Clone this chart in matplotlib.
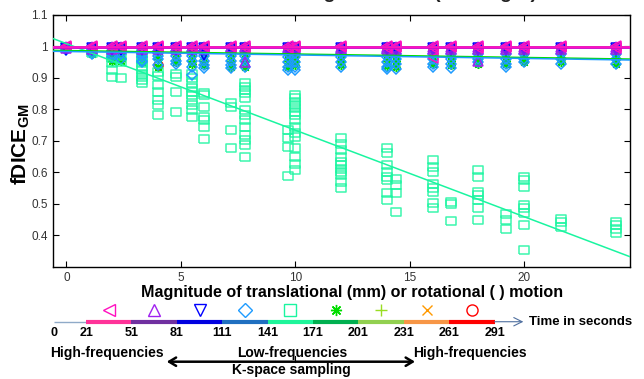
import numpy as np
import matplotlib.pyplot as plt

plt.rcParams['font.family'] = ['Liberation Sans', 'DejaVu Sans']
plt.rcParams['mathtext.fontset'] = 'custom'
plt.rcParams['mathtext.bf'] = 'Liberation Sans:bold'
plt.rcParams['mathtext.rm'] = 'Liberation Sans'

# motion magnitude of each group of subjects
motion = [0, 1.1, 2, 2.4, 3.3, 4, 4.8, 5.5, 6, 7.2, 7.8, 9.7, 10, 12, 14, 14.4, 16, 16.8, 18, 19.2, 20, 21.6, 24]

# fDICE values per motion group, one list per time window
left_vals = [[1.0, 0.997], [1.0, 0.997], [1.0, 0.996], [1.0, 0.997], [1.0, 0.996], [1.0, 0.997],
             [1.0, 0.996], [1.0, 0.996], [1.0, 0.997], [1.0, 0.997], [1.0, 0.996], [1.0, 0.996],
             [1.0, 0.997], [1.0, 0.997], [1.0, 0.996], [1.0, 0.997], [1.0, 0.996, 0.962], [1.0, 0.997],
             [1.0, 0.996], [1.0, 0.997], [1.0, 0.996], [1.0, 0.997], [1.0, 0.996]]
up_vals = [[0.998, 0.994], [0.998, 0.993], [0.997, 0.993], [0.998, 0.994], [0.997, 0.992], [0.998, 0.993],
           [0.997, 0.993], [0.998, 0.992], [0.997, 0.993], [0.998, 0.994], [0.997, 0.992, 0.951], [0.998, 0.993],
           [0.997, 0.992], [0.998, 0.993], [0.997, 0.992], [0.998, 0.993], [0.997, 0.993], [0.998, 0.992],
           [0.997, 0.993, 0.955], [0.998, 0.992], [0.997, 0.993], [0.998, 0.992], [0.997, 0.993]]
down_vals = [[0.996, 0.99], [0.995, 0.989], [0.996, 0.988], [0.995, 0.989], [0.996, 0.988], [0.995, 0.988],
             [0.996, 0.989], [0.995, 0.988], [0.996, 0.988, 0.972], [0.995, 0.989], [0.996, 0.988], [0.995, 0.988],
             [0.996, 0.989], [0.995, 0.988], [0.996, 0.989], [0.995, 0.988], [0.996, 0.988], [0.995, 0.989],
             [0.996, 0.988], [0.995, 0.989], [0.996, 0.988], [0.995, 0.989], [0.996, 0.988]]
diamond_vals = [[0.995, 0.99], [0.99, 0.985, 0.975], [0.985, 0.975, 0.965], [0.985, 0.975, 0.96],
                [0.985, 0.975, 0.965, 0.955, 0.95], [0.985, 0.97, 0.96, 0.94], [0.985, 0.97, 0.955, 0.945],
                [0.985, 0.97, 0.955, 0.935, 0.91], [0.985, 0.97, 0.955, 0.94, 0.93], [0.985, 0.97, 0.955, 0.94, 0.93],
                [0.985, 0.97, 0.955, 0.935], [0.98, 0.965, 0.95, 0.935, 0.925], [0.98, 0.965, 0.95, 0.935, 0.925],
                [0.98, 0.965, 0.95, 0.935], [0.98, 0.965, 0.95, 0.935, 0.928], [0.975, 0.96, 0.945, 0.928],
                [0.975, 0.96, 0.945, 0.935], [0.975, 0.96, 0.945, 0.93], [0.975, 0.96, 0.95],
                [0.975, 0.96, 0.945, 0.935], [0.975, 0.96, 0.95], [0.975, 0.96, 0.945], [0.975, 0.96, 0.945]]
square_vals = [[0.998], [0.985, 0.978], [0.975, 0.962, 0.946, 0.925, 0.904], [0.97, 0.951, 0.899],
               [0.978, 0.968, 0.957, 0.946, 0.936, 0.925, 0.914, 0.904, 0.893, 0.883],
               [0.92, 0.905, 0.877, 0.856, 0.83, 0.815, 0.782], [0.914, 0.904, 0.856, 0.792],
               [0.914, 0.899, 0.883, 0.867, 0.856, 0.846, 0.83, 0.814, 0.798, 0.777],
               [0.851, 0.846, 0.808, 0.777, 0.766, 0.745, 0.705], [0.819, 0.806, 0.734, 0.678],
               [0.883, 0.872, 0.861, 0.851, 0.835, 0.798, 0.782, 0.766, 0.745, 0.718, 0.702, 0.686, 0.649],
               [0.734, 0.708, 0.681, 0.589],
               [0.846, 0.835, 0.824, 0.814, 0.803, 0.792, 0.782, 0.766, 0.745, 0.724, 0.713, 0.676, 0.649, 0.628, 0.607],
               [0.708, 0.69, 0.67, 0.649, 0.633, 0.623, 0.612, 0.601, 0.591, 0.57, 0.549],
               [0.676, 0.66, 0.623, 0.601, 0.586, 0.575, 0.533, 0.511], [0.58, 0.559, 0.533, 0.474],
               [0.639, 0.617, 0.601, 0.564, 0.549, 0.538, 0.501, 0.485], [0.506, 0.499, 0.446],
               [0.607, 0.586, 0.538, 0.527, 0.511, 0.485, 0.45], [0.469, 0.448, 0.421],
               [0.586, 0.577, 0.554, 0.496, 0.485, 0.471, 0.432, 0.352], [0.453, 0.442, 0.426],
               [0.442, 0.432, 0.421, 0.407]]
star_vals = [[0.995], [0.985, 0.975], [0.98, 0.965, 0.955], [0.98, 0.965, 0.955], [0.98, 0.965, 0.95],
             [0.975, 0.96, 0.935], [0.975, 0.96, 0.95], [0.975, 0.955, 0.945], [0.975, 0.955, 0.94],
             [0.975, 0.955, 0.935], [0.975, 0.955, 0.935], [0.975, 0.955, 0.935], [0.975, 0.955, 0.94],
             [0.975, 0.955, 0.94], [0.975, 0.955, 0.938], [0.975, 0.955, 0.935], [0.975, 0.96, 0.945],
             [0.975, 0.955, 0.94], [0.975, 0.96, 0.945], [0.975, 0.955, 0.945], [0.975, 0.96, 0.95],
             [0.975, 0.96, 0.95], [0.975, 0.96, 0.945]]
plus_vals = [[0.995, 0.99], [0.99, 0.982], [0.99, 0.98], [0.99, 0.981], [0.99, 0.98], [0.99, 0.98],
             [0.99, 0.981], [0.99, 0.98], [0.99, 0.98], [0.99, 0.98], [0.99, 0.981], [0.99, 0.98],
             [0.99, 0.98], [0.99, 0.981], [0.99, 0.98], [0.99, 0.98], [0.99, 0.981], [0.99, 0.98],
             [0.99, 0.98], [0.99, 0.981], [0.99, 0.98], [0.99, 0.98], [0.99, 0.981]]
cross_vals = [[0.998, 0.994] for _ in motion]
circle_vals = [[0.998, 0.995], [0.998, 0.995], [0.998, 0.995], [0.998, 0.995], [0.998, 0.995],
               [0.998, 0.995, 0.941], [0.998, 0.995], [0.998, 0.995], [0.998, 0.995], [0.998, 0.995],
               [0.998, 0.995], [0.998, 0.995], [0.998, 0.995], [0.998, 0.995], [0.998, 0.995],
               [0.998, 0.995], [0.998, 0.995], [0.998, 0.995], [0.998, 0.995], [0.998, 0.995],
               [0.998, 0.995], [0.998, 0.995], [0.998, 0.995]]

# linear fits (intercept, slope)
fit_intercept = [0.9977, 0.9968, 0.9966, 0.984, 1.009, 0.987, 0.998, 0.998, 0.998]
fit_slope = [0.0, 0.0, 0.0, -0.0011, -0.0275, -0.0011, 0.0, 0.0, 0.0]

time_edges = [0, 21, 51, 81, 111, 141, 171, 201, 231, 261, 291]

# wide rectangle used for the squares in the plot
rect = [(-1.35, -1), (1.35, -1), (1.35, 1), (-1.35, 1), (-1.35, -1)]

all_vals = [left_vals, up_vals, down_vals, diamond_vals, square_vals, star_vals, plus_vals, cross_vals, circle_vals]
markers = ['<', '^', 'v', 'D', 's', (8, 2, 0), '+', 'x', 'o']
plot_markers = ['<', '^', 'v', 'D', rect, (8, 2, 0), '+', 'x', 'o']
msizes = [7, 7, 7, 5.5, 7.5, 6.5, 6.5, 5, 6.5]
colors = ['#FF10C0', '#A020F0', '#0000FF', '#1E9BFF', '#1AF5A0', '#00DD00', '#99DD22', '#FF9900', '#FF0000']
seg_colors = ['#FF3399', '#7030A0', '#0000E0', '#1F6FC0', '#1EF59A', '#00B050', '#92D050', '#F79646', '#FF0000']

fig = plt.figure(figsize=(6.44, 3.79), dpi=100)
ax = fig.add_axes([52.7/644, 1-266.7/379, (630.5-52.7)/644, (266.7-15)/379])
xlim = (-0.6, 24.65)

for i in reversed(range(9)):
    vals = all_vals[i]
    xs = np.repeat(motion, [len(v) for v in vals])
    ys = np.concatenate(vals)
    ax.plot(xs, ys, linestyle='none', marker=plot_markers[i], ms=msizes[i], mfc='none',
            mec=colors[i], mew=1.1, alpha=0.85 if i == 4 else 1)

xx = np.array(xlim)
for i in [8, 7, 6, 4, 5, 3, 2, 1, 0]:
    ax.plot(xx, fit_intercept[i] + fit_slope[i]*xx, color=colors[i],
            lw=1.8 if i == 0 else 1.1, zorder=5)

ax.set_xlim(xlim)
ax.set_ylim(0.3, 1.1)
ax.set_xticks([0, 5, 10, 15, 20])
ax.set_yticks([0.4, 0.5, 0.6, 0.7, 0.8, 0.9, 1.0, 1.1])
ax.set_yticklabels(['0.4', '0.5', '0.6', '0.7', '0.8', '0.9', '1', '1.1'])
ax.tick_params(direction='in', top=True, right=True, length=4, width=0.8,
               labelsize=8.5, labelcolor='#333333', pad=3.5)
for s in ax.spines.values():
    s.set_linewidth(1)

# title sits mostly above the top edge, as in the original
fig.text(0.505, 1+1.5/379, 'fDICE of GM Tissue Segmentation (T1 weight)', ha='center',
         va='baseline', fontsize=14, fontweight='bold', color='#222222')
fig.text(352/644, 1-293/379, 'Magnitude of translational (mm) or rotational ( ) motion',
         ha='center', va='center', fontsize=11.6, fontweight='bold')
fig.text(21/644, 1-144/379, r'fDICE$_{\mathbf{GM}}$', rotation=90, ha='center', va='center',
         fontsize=15, fontweight='bold')

# time line legend underneath
leg = fig.add_axes([54.3/644, 0, (494.6-54.3)/644, 79/379])
leg.set_xlim(0, 291)
leg.set_ylim(0, 1)
leg.axis('off')

leg.plot(time_edges[:2], [0.725, 0.725], color='#8FAAC8', lw=1, solid_capstyle='butt')
for i in range(1, len(time_edges)-1):
    leg.plot([time_edges[i], time_edges[i+1]], [0.725, 0.725], color=seg_colors[i-1], lw=3,
             solid_capstyle='butt')
    mid = (time_edges[i] + time_edges[i+1]) / 2
    leg.plot([mid], [0.87], marker=markers[i-1], ms=msizes[i-1]+1.5, mfc='none',
             mec=colors[i-1], mew=1, clip_on=False)
leg.annotate('', xy=(310, 0.725), xytext=(291, 0.725), annotation_clip=False,
             arrowprops=dict(arrowstyle='->,head_length=0.6,head_width=0.3', color='#4F6F9F', lw=0.8,
                             shrinkA=0, shrinkB=0))
leg.text(314, 0.725, 'Time in seconds', ha='left', va='center', fontsize=9.5, fontweight='bold')
for t in time_edges:
    leg.text(t, 0.578, str(t), ha='center', va='center', fontsize=9, fontweight='bold')

leg.text(34.8, 0.333, 'High-frequencies', ha='center', va='center', fontsize=10, fontweight='bold')
leg.text(157, 0.333, 'Low-frequencies', ha='center', va='center', fontsize=10, fontweight='bold')
leg.text(274.7, 0.333, 'High-frequencies', ha='center', va='center', fontsize=10, fontweight='bold')
leg.annotate('', xy=(74.3, 0.219), xytext=(238.4, 0.219), annotation_clip=False,
             arrowprops=dict(arrowstyle='<->,head_length=0.5,head_width=0.3', color='black', lw=1.8,
                             shrinkA=0, shrinkB=0))
leg.plot([159, 159], [0.219, 0.29], color='black', lw=0.8)
leg.text(157, 0.114, 'K-space sampling', ha='center', va='center', fontsize=10, fontweight='bold')

fig.savefig('out.png', dpi=100)
